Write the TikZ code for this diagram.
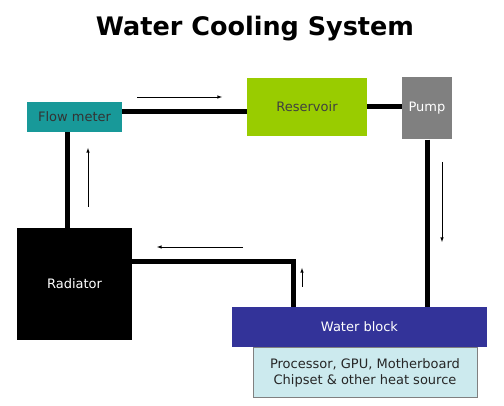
\documentclass[tikz,border=0pt]{standalone}
\usepackage{fontspec}
\setmainfont{DejaVu Sans}
\definecolor{meterteal}{RGB}{24,153,153}
\definecolor{resgreen}{RGB}{153,204,0}
\definecolor{pumpgray}{RGB}{128,128,128}
\definecolor{blockblue}{RGB}{51,51,153}
\definecolor{heatblue}{RGB}{204,234,238}
\begin{document}
\begin{tikzpicture}[x=1pt,y=-1pt,
    part/.style={inner sep=0pt, align=center, font=\fontsize{13}{16}\selectfont},
    pipe/.style={line width=5pt},
    flow/.style={-latex, line width=0.6pt}]
  \useasboundingbox (0,0) rectangle (504,406);
  \node[font=\bfseries\fontsize{25.5}{30}\selectfont] (title) at (255,29) {Water Cooling System};
  % components
  \node[part, fill=meterteal, text=black!80, minimum width=95, minimum height=30] (meter) at (74.5,117) {Flow meter};
  \node[part, fill=resgreen, text=black!75, minimum width=120, minimum height=58] (res) at (307,107) {Reservoir};
  \node[part, fill=pumpgray, text=white, minimum width=50, minimum height=62] (pump) at (427,108.5) {Pump};
  \node[part, fill=black, text=white, minimum width=115, minimum height=112] (rad) at (74.5,284) {Radiator};
  \node[part, fill=blockblue, text=white, minimum width=255, minimum height=40] (block) at (359.5,327) {Water block};
  \node[part, fill=heatblue, draw=gray, text=black!85, minimum width=224, minimum height=50] (heat) at (365,372.5) {Processor, GPU, Motherboard\\Chipset \& other heat source};
  % pipes
  \begin{scope}[pipe]
    \draw ([yshift=5pt]meter.east) -- ([yshift=5pt]meter.east -| res.west);
    \draw (res.east) -- (res.east -| pump.west);
    \draw (pump.south) -- (pump.south |- block.north);
    \draw ([yshift=22pt]rad.east) -| ([xshift=-66.5pt]block.north);
    \draw ([xshift=-7.5pt]meter.south) -- ([xshift=-7.5pt]meter.south |- rad.north);
  \end{scope}
  % direction of flow
  \begin{scope}[flow]
    \draw (137,97) -- (222,97);
    \draw (442,162) -- (442,242);
    \draw (243,247) -- (157,247);
    \draw (302,287) -- (302,268);
    \draw (88,207) -- (88,148);
  \end{scope}
\end{tikzpicture}
\end{document}
